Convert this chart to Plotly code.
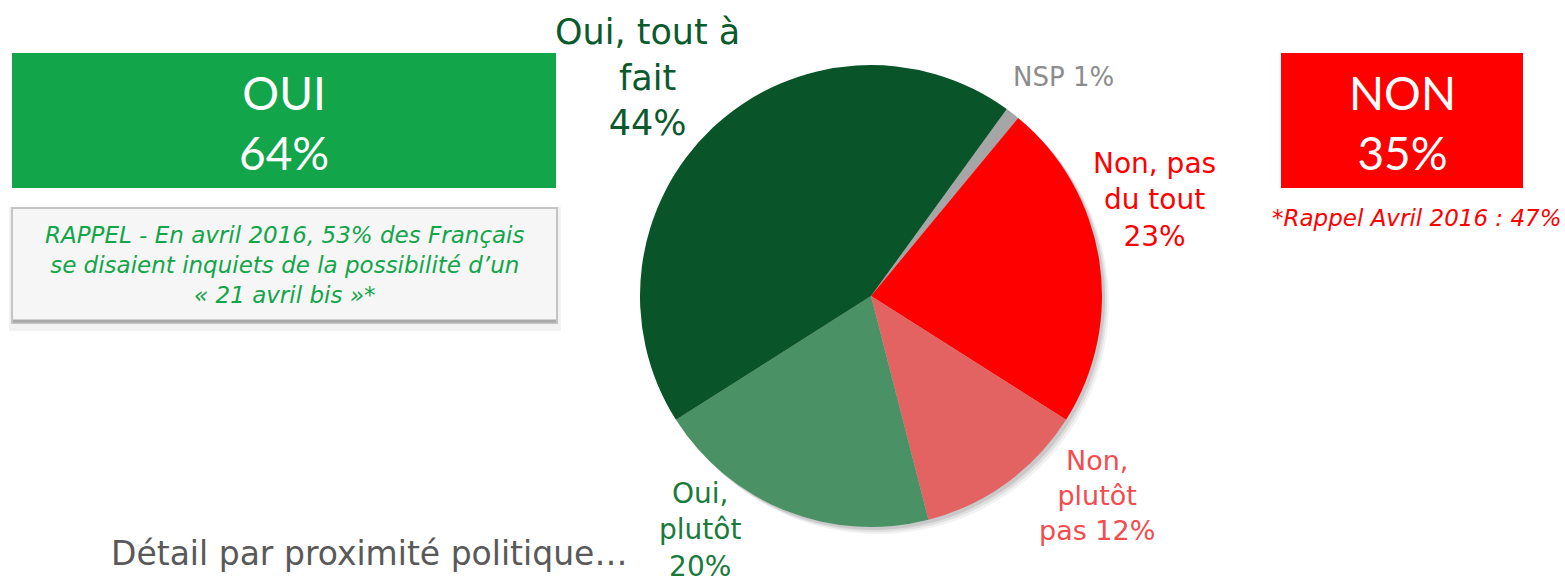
import plotly.graph_objects as go

# ---- data ----
labels = ["NSP", "Non, pas du tout", "Non, plutôt pas", "Oui, plutôt", "Oui, tout à fait"]
values = [1, 23, 12, 20, 44]
slice_colors = ["#a6a6a6", "#ff0000", "#e36262", "#4a9166", "#0a5429"]
label_texts = ["NSP 1%", "Non, pas<br>du tout<br>23%", "Non,<br>plutôt<br>pas 12%",
               "Oui,<br>plutôt<br>20%", "Oui, tout à<br>fait<br>44%"]
label_colors = ["#8c8c8c", "#ff0000", "#f24c4f", "#1a7a3c", "#0b5a2e"]
label_pos = [(1063, 77), (1154, 200), (1097, 495), (700, 530), (647, 77)]
label_sizes = [26, 28, 27, 28, 35]

oui_total = "OUI<br>64%"
non_total = "NON<br>35%"
rappel_non = "*Rappel Avril 2016 : 47%"
rappel_oui = "RAPPEL - En avril 2016, 53% des Français<br>se disaient inquiets de la possibilité d’un<br>« 21 avril bis »*"
footer = "Détail par proximité politique…"

W, H = 1565, 578
FONT = "DejaVu Sans"
BOXFONT = "Lato"

cx, cy, r = 871, 296, 231

fig = go.Figure()
fig.add_trace(go.Pie(
    labels=labels, values=values, sort=False, direction="clockwise", rotation=36,
    marker=dict(colors=slice_colors, line=dict(width=0)),
    textinfo="none", hoverinfo="label+percent", showlegend=False,
    domain=dict(x=[(cx - r) / W, (cx + r) / W], y=[1 - (cy + r) / H, 1 - (cy - r) / H]),
))

shapes = []
# soft shadow behind pie
for off, col in [(7, "rgba(0,0,0,0.05)"), (5, "rgba(0,0,0,0.07)"), (3, "rgba(0,0,0,0.10)")]:
    shapes.append(dict(type="circle", xref="x", yref="y", x0=cx - r + off, x1=cx + r + off,
                       y0=cy - r + off, y1=cy + r + off, fillcolor=col, line=dict(width=0), layer="below"))
# OUI box
shapes.append(dict(type="rect", xref="x", yref="y", x0=12, x1=556, y0=53, y1=188,
                   fillcolor="#12a54a", line=dict(width=0), layer="below"))
# NON box
shapes.append(dict(type="rect", xref="x", yref="y", x0=1281, x1=1523, y0=53, y1=188,
                   fillcolor="#ff0000", line=dict(width=0), layer="below"))
# RAPPEL box shadow + box
shapes.append(dict(type="rect", xref="x", yref="y", x0=9, x1=561, y0=207, y1=331,
                   fillcolor="rgba(0,0,0,0.05)", line=dict(width=0), layer="below"))
shapes.append(dict(type="rect", xref="x", yref="y", x0=12, x1=557, y0=208, y1=323,
                   fillcolor="#f6f6f6", line=dict(width=2, color="#c4c4c4"), layer="below"))
shapes.append(dict(type="line", xref="x", yref="y", x0=13, x1=556, y0=321, y1=321,
                   line=dict(width=3, color="#a8a8a8"), layer="below"))

annotations = []
for t, c, (x, y), s in zip(label_texts, label_colors, label_pos, label_sizes):
    annotations.append(dict(x=x, y=y, xref="x", yref="y", text=t, showarrow=False,
                            font=dict(family=FONT, size=s, color=c), align="center"))
annotations.append(dict(x=284, y=122, xref="x", yref="y", text=oui_total, showarrow=False,
                        font=dict(family=BOXFONT, size=46, color="white"), align="center"))
annotations.append(dict(x=1402, y=122, xref="x", yref="y", text=non_total, showarrow=False,
                        font=dict(family=BOXFONT, size=46, color="white"), align="center"))
annotations.append(dict(x=1417, y=218, xref="x", yref="y", text="<i>" + rappel_non + "</i>", showarrow=False,
                        font=dict(family=FONT, size=23, color="#ff0000"), align="center"))
annotations.append(dict(x=285, y=265, xref="x", yref="y", text="<i>" + rappel_oui + "</i>", showarrow=False,
                        font=dict(family=FONT, size=23, color="#12a54a"), align="center"))
annotations.append(dict(x=109, y=553, xref="x", yref="y", text=footer, showarrow=False, xanchor="left",
                        font=dict(family=FONT, size=33, color="#595959")))

fig.update_layout(
    width=W, height=H, margin=dict(l=0, r=0, t=0, b=0),
    paper_bgcolor="white", plot_bgcolor="white",
    xaxis=dict(range=[0, W], visible=False, fixedrange=True),
    yaxis=dict(range=[H, 0], visible=False, fixedrange=True),
    shapes=shapes, annotations=annotations, showlegend=False,
)

fig.write_html("out.html", config={"displayModeBar": False},
               post_script="document.body.style.margin='0';")
